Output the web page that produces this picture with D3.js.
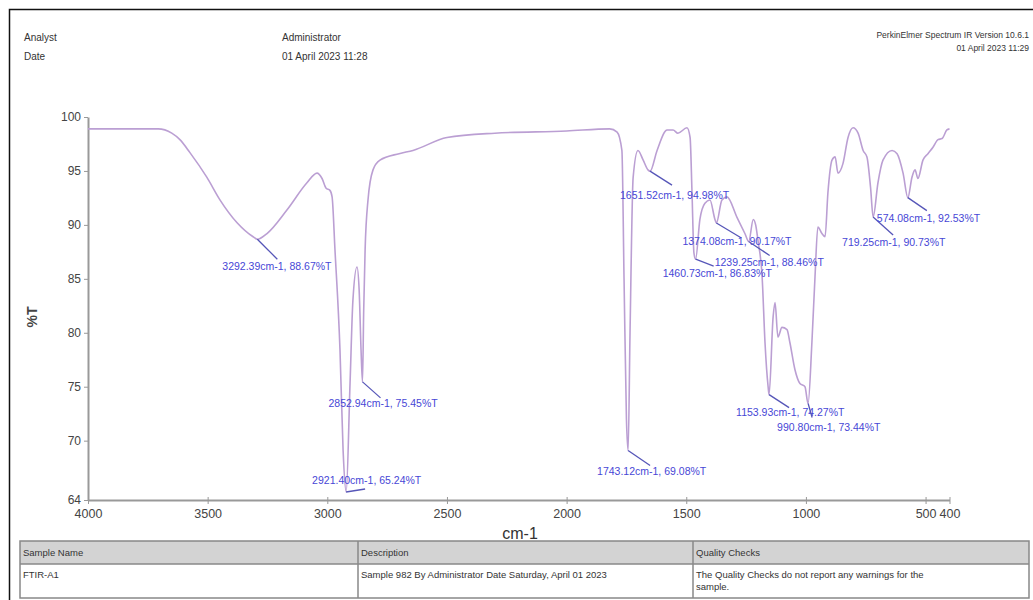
<!DOCTYPE html>
<html><head><meta charset="utf-8">
<script src="https://cdn.jsdelivr.net/npm/d3@7"></script>
<style>
html,body{margin:0;padding:0;background:#fff;}
text{font-family:"Liberation Sans",Arial,sans-serif;}
</style></head>
<body>
<svg id="chart" width="1033" height="600"></svg>
<script>
// ---- data ----
const wavenumbers = [4000,3800,3707,3650,3616,3574,3503,3448,3377,3310,3292,3252,3168,3085,3043,3022,3005,2989,2980,2968,2947,2934,2921,2905,2893,2876,2867,2859,2853,2848,2842,2830,2809,2780,2700,2642,2500,2300,2000,1820,1789,1769,1760,1750,1743,1735,1722,1702,1680,1660,1651,1622,1580,1555,1535,1497,1484,1476,1468,1461,1443,1422,1401,1380,1374,1351,1330,1288,1255,1239,1220,1210,1200,1183,1171,1158,1154,1137,1129,1117,1100,1079,1067,1046,1025,1004,991,975,962,950,933,920,908,891,878,866,845,824,803,782,761,745,730,719,699,678,640,619,594,574,557,544,532,511,490,469,448,431,411,400];
const transmittance = [98.9,98.9,98.9,98.5,97.9,96.7,94.4,92.3,90.2,88.9,88.67,89.2,91.4,93.9,94.8,94.3,93.4,93.2,92.6,87.7,78.4,69.1,65.24,75.3,83.0,86.1,84.0,78.4,75.45,82.0,87.7,92.3,95.1,96.0,96.6,96.9,98.1,98.5,98.7,98.9,98.6,96.9,85.0,72.0,69.08,80.0,94.4,96.9,96.0,95.1,94.98,96.9,98.8,98.8,98.5,99.0,98.1,93.0,87.4,86.83,90.5,92.0,92.3,90.5,90.17,92.3,92.6,90.7,89.2,88.46,90.5,90.0,88.5,85.2,79.1,75.0,74.27,81.5,82.8,79.6,80.5,80.3,79.1,76.6,75.3,75.0,73.44,79.1,85.2,89.8,89.2,88.9,93.0,96.0,96.3,94.8,95.7,98.1,99.0,98.5,96.9,96.3,93.5,90.73,93.9,96.0,96.9,96.6,94.8,92.53,94.4,95.1,94.3,96.0,96.6,97.2,97.9,98.0,98.8,98.9];

const peakWavenumbers = [3292.39,2852.94,2921.40,1743.12,1651.52,1374.08,1239.25,1460.73,1153.93,990.80,719.25,574.08];
const peakValues = [88.67,75.45,65.24,69.08,94.98,90.17,88.46,86.83,74.27,73.44,90.73,92.53];
const peakLabels = ["3292.39cm-1, 88.67%T","2852.94cm-1, 75.45%T","2921.40cm-1, 65.24%T","1743.12cm-1, 69.08%T","1651.52cm-1, 94.98%T","1374.08cm-1, 90.17%T","1239.25cm-1, 88.46%T","1460.73cm-1, 86.83%T","1153.93cm-1, 74.27%T","990.80cm-1, 73.44%T","719.25cm-1, 90.73%T","574.08cm-1, 92.53%T"];
// label anchor offsets (pixels from peak marker): leader end dx,dy ; text start dx, text center dy
const labelLeaderEnd = [[20,20],[18,16],[19,-3],[22,15],[22,14],[25,15],[21,14],[18,7],[20,13],[4,14],[20,18],[19,13]];
const labelTextPos = [[-35,27],[-34,21],[-34,-12],[-31,21],[-30,24],[-34,18],[-34,21],[-33,14],[-33,18],[-31,23.5],[-31,25],[-31,21]];

const xTickValues = [4000,3500,3000,2500,2000,1500,1000,500,400];
const yTickValues = [64.5,70,75,80,85,90,95,100];
const yTickLabels = ["64","70","75","80","85","90","95","100"];

const headerLeftLabels = ["Analyst","Date"];
const headerLeftValues = ["Administrator","01 April 2023 11:28"];
const headerRight = ["PerkinElmer Spectrum IR Version 10.6.1","01 April 2023 11:29"];
const tableHeaders = ["Sample Name","Description","Quality Checks"];
const tableValues = [["FTIR-A1"],["Sample 982 By Administrator Date Saturday, April 01 2023"],["The Quality Checks do not report any warnings for the","sample."]];

// ---- drawing ----
const svg = d3.select("#chart");
svg.append("rect").attr("x",9.5).attr("y",9.5).attr("width",1040).attr("height",600)
  .attr("fill","none").attr("stroke","#111").attr("stroke-width",1.5);

// header
const hdr = svg.append("g").attr("font-size",10).attr("fill","#333");
headerLeftLabels.forEach((t,i)=>{
  hdr.append("text").attr("x",24).attr("y",41+i*19).text(t);
  hdr.append("text").attr("x",282).attr("y",41+i*19).text(headerLeftValues[i]);
});
headerRight.forEach((t,i)=>{
  hdr.append("text").attr("x",1029).attr("y",38+i*13).attr("text-anchor","end").attr("font-size",8.5).text(t);
});

const x = d3.scaleLinear().domain([4000,400]).range([88,949.5]);
const y = d3.scaleLinear().domain([64.5,100]).range([500,117]);

const axisColor = "#999";
const gx = svg.append("g").attr("transform","translate(0,500)")
  .call(d3.axisBottom(x).tickValues(xTickValues).tickSize(4).tickSizeOuter(0).tickFormat(d3.format("d")));
gx.select(".domain").attr("stroke",axisColor).attr("stroke-width",2);
gx.selectAll(".tick line").attr("stroke",axisColor).attr("y1",-3);
gx.selectAll(".tick text").attr("font-size",12.5).attr("fill","#444").attr("dy","0.85em")
  .attr("font-family","'Liberation Sans',Arial,sans-serif");

const gy = svg.append("g").attr("transform","translate(88,0)")
  .call(d3.axisLeft(y).tickValues(yTickValues).tickSize(4).tickSizeOuter(0)
    .tickFormat((d,i)=>yTickLabels[i]));
gy.select(".domain").attr("stroke",axisColor).attr("stroke-width",2);
gy.selectAll(".tick line").attr("stroke",axisColor);
gy.selectAll(".tick text").attr("font-size",12).attr("fill","#444")
  .attr("font-family","'Liberation Sans',Arial,sans-serif");

svg.append("text").attr("x",520).attr("y",539).attr("text-anchor","middle")
  .attr("font-size",16).attr("fill","#333").text("cm-1");
svg.append("text").attr("transform","translate(37,317) rotate(-90)").attr("text-anchor","middle")
  .attr("font-size",14).attr("font-weight","bold").attr("fill","#444").text("%T");

// spectrum
const pts = wavenumbers.map((w,i)=>[w,transmittance[i]]);
svg.append("path").datum(pts)
  .attr("d",d3.line().x(d=>x(d[0])).y(d=>y(d[1])).curve(d3.curveMonotoneX))
  .attr("fill","none").attr("stroke","#bb9fd3").attr("stroke-width",1.6);

// peak annotations
const ann = svg.append("g");
peakWavenumbers.forEach((w,i)=>{
  const px = x(w), py = y(peakValues[i]);
  const [lx,ly] = labelLeaderEnd[i];
  const [tx,ty] = labelTextPos[i];
  ann.append("line").attr("x1",px).attr("y1",py).attr("x2",px+lx).attr("y2",py+ly)
    .attr("stroke","#5656b8").attr("stroke-width",1.3);
  ann.append("text").attr("x",px+tx).attr("y",py+ty).attr("dy","0.35em")
    .attr("font-size",10.5).attr("fill","#4747d6").text(peakLabels[i]);
});

// table
const tbl = svg.append("g");
const colX = [20,358,693,1029];
tbl.append("rect").attr("x",20).attr("y",541).attr("width",1009).attr("height",23)
  .attr("fill","#d3d3d3");
tbl.append("rect").attr("x",20).attr("y",541).attr("width",1009).attr("height",57)
  .attr("fill","none").attr("stroke","#888").attr("stroke-width",1.5);
tbl.append("line").attr("x1",20).attr("x2",1029).attr("y1",564).attr("y2",564).attr("stroke","#888").attr("stroke-width",1.5);
[358,693].forEach(cx=>tbl.append("line").attr("x1",cx).attr("x2",cx).attr("y1",541).attr("y2",598).attr("stroke","#888").attr("stroke-width",1.5));
tableHeaders.forEach((h,i)=>{
  tbl.append("text").attr("x",colX[i]+3).attr("y",556).attr("font-size",9.5).attr("fill","#333").text(h);
  tableValues[i].forEach((t,j)=>{
    tbl.append("text").attr("x",colX[i]+3).attr("y",578+j*12).attr("font-size",9.5).attr("fill","#333").text(t);
  });
});
</script>
</body></html>
